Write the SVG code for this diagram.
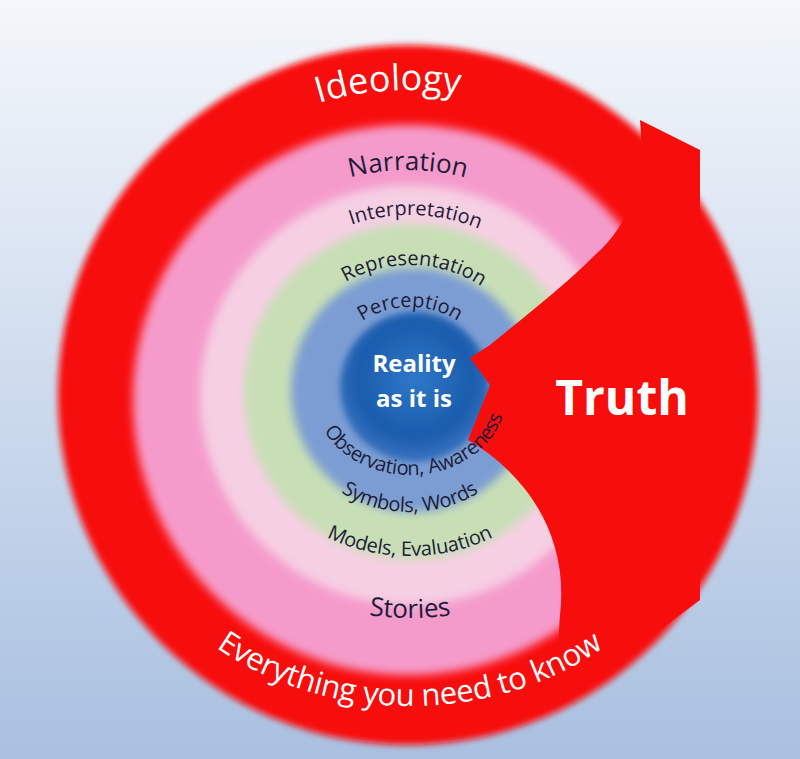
<svg xmlns="http://www.w3.org/2000/svg" width="800" height="759" viewBox="0 0 800 759">
<defs>
<linearGradient id="bg" x1="0" y1="0" x2="0" y2="1"><stop offset="0" stop-color="#f4f7fb"/><stop offset="1" stop-color="#a9c0e0"/></linearGradient>
<radialGradient id="core" cx="0.5" cy="0.45" r="0.55"><stop offset="0" stop-color="#2f78c8"/><stop offset="0.7" stop-color="#1b5cad"/><stop offset="1" stop-color="#3a74c0"/></radialGradient>
<filter id="soft" x="-10%" y="-10%" width="120%" height="120%"><feGaussianBlur stdDeviation="3"/></filter>
<filter id="soft2" x="-10%" y="-10%" width="120%" height="120%"><feGaussianBlur stdDeviation="5"/></filter>
<clipPath id="big"><circle cx="408" cy="395" r="348"/></clipPath>
<path id="pIdeo" d="M 98,400 A 310,310 0 0 1 718,400"/>
<path id="pNarr" d="M 183,395 A 225,225 0 0 1 633,395"/>
<path id="pInt" d="M 230,395 A 180,180 0 0 1 590,395"/>
<path id="pRep" d="M 280,395 A 130,130 0 0 1 540,395"/>
<path id="pPer" d="M 322,395 A 88,88 0 0 1 498,395"/>
<path id="pObs" d="M 310,395 A 100,84 0 0 0 510,395"/>
<path id="pSym" d="M 300,430 A 110,86 0 0 0 520,430"/>
<path id="pMod" d="M 260,450 A 150,110 0 0 0 560,450"/>
<path id="pSto" d="M 200,480 A 210,142 0 0 0 620,480"/>
<path id="pEve" d="M 110,470 A 300,242 0 0 0 710,470"/>
<style>
.dk{fill:#1c1c3a;font-family:"Open Sans","Liberation Sans",sans-serif}
.wh{fill:#ffffff;font-family:"Open Sans","Liberation Sans",sans-serif}
</style>
</defs>
<rect width="800" height="759" fill="url(#bg)"/>
<g id="rings">
<circle cx="408" cy="395" r="350" fill="#f80d0d" filter="url(#soft)"/>
<g clip-path="url(#big)">
<circle cx="408" cy="400" r="275" fill="#f59bcb" filter="url(#soft2)"/>
<circle cx="410" cy="395" r="210" fill="#f6cfe3" filter="url(#soft2)"/>
<circle cx="412" cy="392" r="168" fill="#c8dfb6" filter="url(#soft2)"/>
<circle cx="413" cy="390" r="122" fill="#7b9dd3" filter="url(#soft2)"/>
<circle cx="415" cy="387" r="75" fill="url(#core)" filter="url(#soft)"/>
</g>
<path id="truthwedge" d="M 640,120 C 645,170 635,220 595,255 C 560,290 520,320 490,345 L 470,358 L 490,385 L 468,440 C 520,470 570,530 560,615 C 557,650 560,680 566,700 L 700,600 L 700,150 Z" fill="#f80d0d"/>
</g>
<g id="labels">
<text class="wh" font-size="36"><textPath href="#pIdeo" startOffset="48%" text-anchor="middle">Ideology</textPath></text>
<text class="dk" font-size="26"><textPath href="#pNarr" startOffset="50%" text-anchor="middle">Narration</textPath></text>
<text class="dk" font-size="20"><textPath href="#pInt" startOffset="51%" text-anchor="middle">Interpretation</textPath></text>
<text class="dk" font-size="20"><textPath href="#pRep" startOffset="51%" text-anchor="middle">Representation</textPath></text>
<text class="dk" font-size="20"><textPath href="#pPer" startOffset="50%" text-anchor="middle">Perception</textPath></text>
<text class="wh" font-size="24" font-weight="bold" text-anchor="middle"><tspan x="414" y="372">Reality</tspan><tspan x="414" y="407">as it is</tspan></text>
<text class="dk" font-size="20" dy="-4"><textPath href="#pObs" startOffset="53%" text-anchor="middle">Observation, Awareness</textPath></text>
<text class="dk" font-size="20" dy="-4"><textPath href="#pSym" startOffset="50%" text-anchor="middle">Symbols, Words</textPath></text>
<text class="dk" font-size="20" dy="-4"><textPath href="#pMod" startOffset="50%" text-anchor="middle">Models, Evaluation</textPath></text>
<text class="dk" font-size="26" dy="-4"><textPath href="#pSto" startOffset="50%" text-anchor="middle">Stories</textPath></text>
<text class="wh" font-size="31" dy="-6"><textPath href="#pEve" startOffset="50%" text-anchor="middle">Everything you need to know</textPath></text>
<text class="wh" x="622" y="415" font-size="48" font-weight="bold" text-anchor="middle">Truth</text>
</g>
</svg>
